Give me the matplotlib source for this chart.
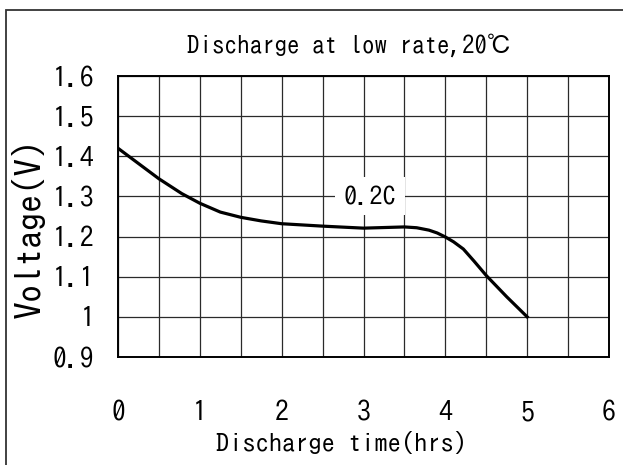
import matplotlib
matplotlib.use("Agg")
import matplotlib.pyplot as plt
import matplotlib.patches as patches
import numpy as np

# discharge curve
hours = [0, 0.25, 0.5, 0.78, 1.0, 1.25, 1.5, 1.75, 2.0, 2.5, 3.0, 3.5, 3.65, 3.8,
         3.9, 4.0, 4.1, 4.22, 4.35, 4.5, 4.75, 5.0]
volts = [1.42, 1.382, 1.344, 1.307, 1.283, 1.261, 1.248, 1.239, 1.232, 1.226, 1.221,
         1.224, 1.222, 1.216, 1.209, 1.199, 1.187, 1.169, 1.139, 1.103, 1.05, 1.0]
x_ticks = [0, 1, 2, 3, 4, 5, 6]
y_ticks = [0.9, 1.0, 1.1, 1.2, 1.3, 1.4, 1.5, 1.6]
y_labels = ['0.9', '1', '1.1', '1.2', '1.3', '1.4', '1.5', '1.6']

plt.rcParams['font.family'] = ['IPAGothic', 'DejaVu Sans']
W, H = 623, 465
fig = plt.figure(figsize=(W / 100, H / 100), dpi=100)
ax = fig.add_axes([118 / W, 1 - 357 / H, (609 - 118) / W, (357 - 76) / H])

ax.plot(hours, volts, color='black', lw=2.3, zorder=3, solid_joinstyle='round')

ax.set_xlim(0, 6)
ax.set_ylim(0.9, 1.6)
ax.set_xticks(x_ticks)
ax.set_yticks(y_ticks)
ax.set_yticklabels(y_labels)
ax.set_xticks(np.arange(0, 6.01, 0.5), minor=True)
ax.grid(which='both', color='#2a2a2a', lw=0.9)
ax.tick_params(which='both', length=0)
ax.tick_params(axis='y', pad=17, labelsize=20)
ax.tick_params(axis='x', pad=31, labelsize=20)
for s in ax.spines.values():
    s.set_linewidth(1.4)

ax.text(3.08, 1.30, '0.2C', fontsize=19, ha='center', va='center', zorder=4,
        bbox=dict(facecolor='white', edgecolor='none', pad=6))

fig.text(349 / W, 1 - 45 / H, 'Discharge at low rate,20℃', fontsize=18,
         ha='center', va='center')
fig.text(341 / W, 1 - 442 / H, 'Discharge time(hrs)', fontsize=19,
         ha='center', va='center')
fig.text(28 / W, 1 - 228 / H, 'Voltage(V)', fontsize=26, rotation=90,
         ha='center', va='center')

# frame around the figure (top, left, right visible)
fig.patches.append(patches.Rectangle((6 / W, -0.05), (W - 3) / W, 1.05 - 10 / H,
                                     transform=fig.transFigure, fill=False,
                                     edgecolor='#333333', lw=1.3))

fig.savefig('out.png', dpi=100)
